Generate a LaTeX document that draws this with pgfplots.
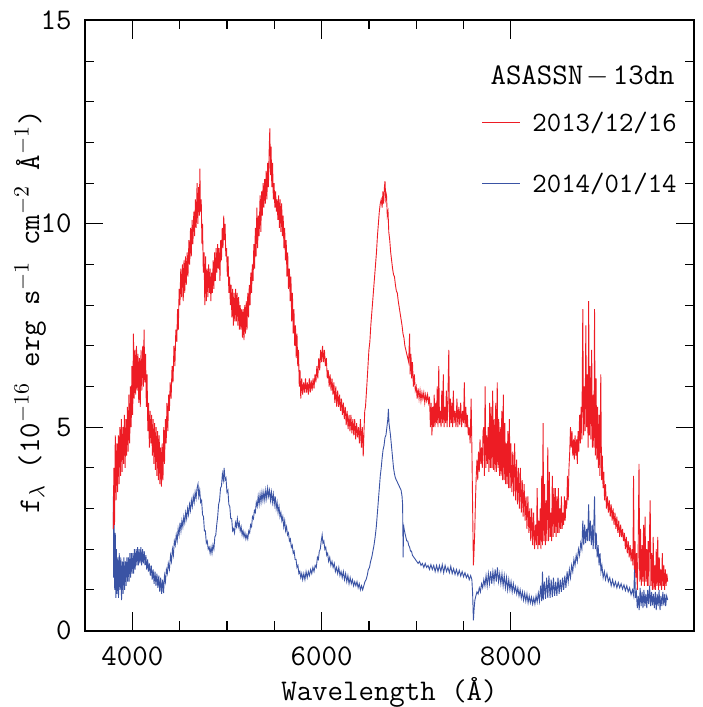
\documentclass[border=0pt]{standalone}
\usepackage{pgfplots}
\pgfplotsset{compat=1.18}

\definecolor{specred}{RGB}{237,28,36}
\definecolor{specblue}{RGB}{58,83,164}
\newcommand{\smfont}{\fontsize{15}{18}\selectfont\ttfamily}
\newcommand{\legfont}{\fontsize{14}{17}\selectfont\ttfamily}

\begin{document}
\begin{tikzpicture}
  % fix the page to the reference's margins round the axis box
  \path[use as bounding box] (-42.5pt,-38.25pt) rectangle (308.5pt,315.25pt);
  \begin{axis}[
    scale only axis,
    width=304.5pt, height=305pt,
    xmin=3500, xmax=9935,
    ymin=0, ymax=15,
    xtick={4000,6000,8000},
    ytick={0,5,10,15},
    minor x tick num=3,
    minor y tick num=4,
    tick align=inside,
    xtick pos=both, ytick pos=both,
    major tick length=9pt,
    minor tick length=4.5pt,
    every tick/.style={black, line width=0.6pt},
    axis line style={line width=1pt},
    /pgf/number format/assume math mode=true,
    /pgf/number format/set thousands separator={},
    tick label style={font=\smfont},
    xticklabel style={anchor=base, yshift=-17.25pt},
    yticklabel style={anchor=east, inner sep=0pt, xshift=-6.5pt},
    xlabel={Wavelength (Å)},
    ylabel={f$_\lambda$ (10$^{-16}$ erg s$^{-1}$ cm$^{-2}$ Å$^{-1}$)},
    label style={font=\smfont},
    xlabel style={at={(axis description cs:0.5,0)}, anchor=base, yshift=-34.75pt},
    ylabel style={at={(axis description cs:-0.09,0.522)}, anchor=center},
  ]

  % 2014/01/14
  \addplot[specblue, line width=0.45pt, mark=none] coordinates {
    (3799,3.3) (3803,1.3) (3808,2.8) (3814,1.0) (3820,2.4) (3826,0.8) (3832,2.0) (3838,0.9)
    (3846,1.8) (3854,0.8) (3862,1.9) (3870,1.0) (3878,1.8) (3886,0.75) (3894,1.7) (3902,0.9)
    (3910,1.8) (3918,1.0) (3926,1.7) (3934,1.1) (3942,1.8) (3950,1.2) (3958,1.8) (3966,1.2)
    (3974,1.9) (3982,1.3) (3990,1.9) (3998,1.4) (4006,1.9) (4014,1.4) (4022,2.0) (4030,1.5)
    (4040,2.0) (4048,1.6) (4056,2.05) (4064,1.6) (4072,2.0) (4080,1.65) (4090,2.05) (4098,1.6)
    (4108,2.0) (4116,1.65) (4126,1.95) (4134,1.6) (4144,1.85) (4152,1.5) (4162,1.75) (4170,1.45)
    (4180,1.65) (4190,1.35) (4200,1.6) (4210,1.25) (4220,1.5) (4230,1.15) (4240,1.45) (4250,1.1)
    (4260,1.4) (4270,1.05) (4280,1.35) (4290,0.95) (4300,1.3) (4310,0.9) (4320,1.25) (4330,0.92)
    (4340,1.35) (4350,1.2) (4360,1.5) (4370,1.4) (4380,1.65) (4392,1.5) (4404,1.85) (4414,1.7)
    (4424,2.0) (4434,1.85) (4444,2.2) (4454,2.1) (4464,2.35) (4474,2.2) (4484,2.5) (4494,2.35)
    (4504,2.65) (4514,2.45) (4524,2.7) (4534,2.55) (4544,2.8) (4554,2.65) (4564,2.9) (4574,2.75)
    (4584,3.0) (4594,2.85) (4604,3.1) (4614,2.95) (4624,3.2) (4634,3.05) (4644,3.3) (4654,3.15)
    (4664,3.4) (4674,3.25) (4684,3.5) (4694,3.6) (4702,3.3) (4712,3.45) (4722,3.15) (4732,3.2)
    (4742,2.85) (4752,2.8) (4762,2.45) (4772,2.45) (4782,2.15) (4792,2.2) (4802,2.0) (4812,2.05)
    (4822,1.9) (4832,2.05) (4842,1.9) (4852,2.1) (4862,2.0) (4872,2.3) (4882,2.35) (4892,2.6)
    (4902,2.8) (4912,3.1) (4922,3.2) (4932,3.5) (4942,3.55) (4952,3.85) (4962,3.7) (4970,4.0)
    (4980,3.7) (4990,3.75) (5000,3.4) (5010,3.45) (5020,3.1) (5030,3.05) (5040,2.75) (5050,2.75)
    (5060,2.45) (5070,2.5) (5080,2.4) (5090,2.65) (5100,2.55) (5110,2.75) (5120,2.55) (5130,2.65)
    (5140,2.45) (5150,2.55) (5160,2.35) (5170,2.45) (5180,2.3) (5190,2.4) (5200,2.25) (5210,2.35)
    (5220,2.25) (5230,2.45) (5240,2.4) (5250,2.6) (5260,2.55) (5270,2.8) (5280,2.75) (5290,2.95)
    (5300,2.9) (5310,3.15) (5320,3.05) (5330,3.3) (5340,3.1) (5350,3.35) (5360,3.15) (5370,3.4)
    (5380,3.2) (5390,3.4) (5400,3.2) (5410,3.45) (5420,3.25) (5430,3.5) (5440,3.3) (5450,3.45)
    (5460,3.2) (5470,3.4) (5480,3.15) (5490,3.35) (5500,3.1) (5510,3.3) (5520,3.0) (5530,3.15)
    (5540,2.9) (5550,3.05) (5560,2.8) (5570,2.9) (5580,2.7) (5590,2.8) (5600,2.55) (5610,2.7)
    (5620,2.45) (5630,2.55) (5640,2.35) (5650,2.4) (5660,2.2) (5670,2.25) (5680,2.05) (5690,2.1)
    (5700,1.9) (5710,1.95) (5720,1.75) (5730,1.75) (5740,1.55) (5750,1.6) (5760,1.4) (5770,1.45)
    (5780,1.3) (5790,1.4) (5800,1.25) (5812,1.4) (5824,1.25) (5836,1.45) (5848,1.3) (5860,1.45)
    (5872,1.35) (5884,1.5) (5896,1.4) (5908,1.55) (5920,1.45) (5932,1.6) (5944,1.55) (5956,1.8)
    (5966,1.75) (5976,1.95) (5986,2.0) (5996,2.2) (6006,2.35) (6014,2.15) (6024,2.2) (6034,2.0)
    (6044,2.05) (6054,1.85) (6064,1.9) (6074,1.7) (6086,1.8) (6098,1.6) (6110,1.7) (6122,1.55)
    (6134,1.65) (6146,1.45) (6158,1.55) (6170,1.4) (6182,1.55) (6194,1.35) (6206,1.45) (6218,1.3)
    (6230,1.45) (6242,1.25) (6254,1.4) (6266,1.2) (6278,1.35) (6290,1.15) (6302,1.3) (6314,1.15)
    (6326,1.25) (6338,1.1) (6350,1.2) (6362,1.1) (6374,1.2) (6386,1.05) (6398,1.15) (6410,1.0)
    (6422,1.1) (6434,1.0) (6446,1.1) (6458,1.2) (6470,1.25) (6482,1.35) (6494,1.5) (6506,1.55)
    (6518,1.7) (6530,1.8) (6542,1.95) (6554,2.1) (6566,2.3) (6578,2.55) (6590,2.9) (6600,3.2)
    (6610,3.5) (6620,3.8) (6630,4.0) (6640,4.25) (6650,4.45) (6660,4.55) (6670,4.75) (6680,4.8)
    (6690,5.0) (6700,5.2) (6706,5.45) (6712,5.1) (6720,4.95) (6728,4.8) (6736,4.6) (6744,4.4)
    (6752,4.2) (6760,4.0) (6770,3.85) (6780,3.75) (6790,3.7) (6800,3.65) (6810,3.6) (6820,3.55)
    (6830,3.5) (6840,3.45) (6850,3.3) (6856,3.1) (6862,1.8) (6866,2.6) (6872,2.5) (6880,2.4)
    (6890,2.3) (6900,2.2) (6910,2.2) (6920,2.1) (6930,2.05) (6940,1.95) (6950,1.95) (6960,1.85)
    (6975,1.8) (6990,1.75) (7005,1.7) (7020,1.65) (7035,1.7) (7050,1.6) (7065,1.65) (7080,1.55)
    (7095,1.65) (7110,1.55) (7125,1.6) (7140,1.5) (7155,1.62) (7170,1.5) (7185,1.6) (7200,1.45)
    (7215,1.6) (7230,1.45) (7245,1.6) (7260,1.45) (7275,1.62) (7290,1.42) (7305,1.6) (7320,1.45)
    (7335,1.55) (7350,1.42) (7365,1.58) (7380,1.4) (7395,1.52) (7410,1.38) (7425,1.5) (7440,1.36)
    (7455,1.48) (7470,1.34) (7485,1.45) (7500,1.32) (7515,1.42) (7530,1.3) (7545,1.38) (7560,1.25)
    (7575,1.35) (7588,1.25) (7596,0.9) (7604,0.25) (7612,0.55) (7620,0.75) (7630,0.85) (7642,0.95)
    (7654,0.9) (7666,1.05) (7678,0.95) (7690,1.15) (7702,1.05) (7714,1.25) (7726,1.1) (7738,1.35)
    (7750,1.1) (7762,1.4) (7774,1.15) (7786,1.45) (7798,1.15) (7810,1.45) (7822,1.2) (7834,1.5)
    (7846,1.2) (7858,1.55) (7870,1.2) (7882,1.4) (7894,1.15) (7906,1.4) (7918,1.1) (7930,1.35)
    (7942,1.05) (7954,1.3) (7966,1.0) (7978,1.25) (7990,1.0) (8002,1.2) (8014,0.95) (8026,1.15)
    (8038,0.95) (8050,1.08) (8062,0.9) (8074,1.05) (8086,0.85) (8098,1.0) (8110,0.8) (8122,0.95)
    (8134,0.75) (8146,0.92) (8158,0.72) (8170,0.9) (8182,0.68) (8194,0.85) (8206,0.68) (8218,0.82)
    (8230,0.65) (8242,0.8) (8254,0.65) (8266,0.85) (8278,0.7) (8290,0.92) (8302,0.72) (8314,1.1)
    (8326,0.72) (8334,1.45) (8342,0.75) (8354,1.2) (8366,0.78) (8378,1.3) (8390,0.8) (8402,1.35)
    (8414,0.8) (8426,1.25) (8438,0.82) (8450,1.3) (8462,0.85) (8474,1.2) (8486,0.85) (8498,1.3)
    (8510,0.9) (8522,1.25) (8534,0.95) (8546,1.3) (8558,1.0) (8570,1.35) (8582,1.05) (8594,1.45)
    (8606,1.2) (8618,1.5) (8630,1.3) (8642,1.6) (8654,1.45) (8666,1.75) (8678,1.6) (8690,1.85)
    (8702,1.7) (8714,2.0) (8726,1.85) (8738,2.15) (8750,2.0) (8760,2.7) (8770,2.1) (8780,2.6)
    (8790,2.15) (8800,2.5) (8810,2.2) (8822,3.1) (8830,2.2) (8840,2.7) (8850,2.1) (8860,2.6)
    (8870,2.0) (8884,3.3) (8892,2.0) (8902,2.4) (8912,1.8) (8922,2.1) (8932,1.6) (8942,1.9)
    (8952,1.45) (8962,1.6) (8975,1.3) (8988,1.45) (9000,1.25) (9015,1.4) (9030,1.2) (9045,1.3)
    (9060,1.1) (9075,1.25) (9090,1.08) (9105,1.2) (9120,1.05) (9135,1.18) (9150,1.05) (9165,1.15)
    (9180,1.02) (9195,1.12) (9210,0.98) (9225,1.1) (9240,0.95) (9255,1.05) (9270,0.88) (9285,1.0)
    (9298,0.85) (9308,1.6) (9316,0.8) (9326,0.95) (9336,0.55) (9346,0.85) (9356,0.5) (9366,1.05)
    (9376,0.6) (9386,0.95) (9396,0.55) (9406,1.0) (9416,0.6) (9426,0.9) (9436,0.55) (9446,1.0)
    (9456,0.65) (9466,1.1) (9476,0.6) (9486,0.95) (9496,0.62) (9506,0.9) (9516,0.55) (9526,0.95)
    (9536,0.5) (9546,0.9) (9556,0.6) (9566,1.0) (9576,0.5) (9586,0.85) (9596,0.6) (9606,0.95)
    (9616,0.62) (9626,0.9) (9636,0.6) (9646,0.85) (9657,0.75)
  };

  % 2013/12/16
  \addplot[specred, line width=0.45pt, mark=none] coordinates {
    (3799,2.5) (3805,4.0) (3812,2.6) (3820,4.8) (3828,3.2) (3836,4.6) (3844,3.4) (3852,4.8)
    (3860,3.6) (3868,5.0) (3876,3.8) (3884,5.2) (3892,3.9) (3900,5.0) (3908,4.1) (3916,5.3)
    (3924,4.0) (3932,5.2) (3940,4.3) (3948,5.5) (3956,4.4) (3964,5.8) (3972,4.6) (3980,6.0)
    (3988,5.0) (3996,6.5) (4004,5.3) (4012,7.3) (4020,5.7) (4028,6.9) (4036,5.8) (4044,7.0)
    (4052,5.9) (4060,6.8) (4068,5.6) (4076,6.7) (4084,5.5) (4092,6.9) (4100,5.9) (4110,7.0)
    (4118,6.0) (4124,7.4) (4132,6.1) (4140,6.8) (4148,5.5) (4156,6.3) (4164,4.9) (4172,5.6)
    (4180,4.5) (4188,5.4) (4196,4.6) (4204,5.3) (4212,4.3) (4220,5.2) (4228,4.1) (4236,5.1)
    (4244,3.95) (4252,5.0) (4260,3.8) (4268,4.9) (4276,3.7) (4284,4.8) (4292,3.6) (4300,4.5)
    (4308,3.54) (4316,4.6) (4324,3.7) (4332,5.0) (4340,4.1) (4350,5.2) (4358,4.6) (4366,5.6)
    (4375,4.9) (4384,5.8) (4392,5.4) (4400,6.1) (4410,5.7) (4420,6.5) (4430,6.1) (4440,7.0)
    (4450,6.5) (4460,7.4) (4470,7.1) (4478,7.9) (4486,7.4) (4495,8.4) (4503,8.0) (4512,8.9)
    (4520,8.2) (4530,9.0) (4538,8.1) (4546,9.1) (4554,8.3) (4562,9.2) (4570,8.5) (4580,9.3)
    (4588,8.7) (4598,9.6) (4606,9.0) (4615,9.9) (4623,9.2) (4632,10.1) (4640,9.5) (4650,10.3)
    (4658,9.7) (4667,10.6) (4675,9.9) (4684,11.0) (4692,10.0) (4700,10.9) (4708,10.2) (4714,11.36)
    (4720,10.3) (4728,10.6) (4736,9.5) (4742,10.0) (4750,8.8) (4758,9.3) (4766,8.0) (4774,9.2)
    (4782,8.1) (4790,8.9) (4798,8.2) (4806,9.0) (4814,8.3) (4822,8.9) (4830,8.1) (4838,8.8)
    (4846,8.3) (4854,9.1) (4862,8.4) (4870,9.3) (4878,8.6) (4886,9.4) (4894,8.8) (4902,9.5)
    (4910,8.9) (4918,9.4) (4926,8.6) (4934,9.6) (4942,9.1) (4950,9.9) (4958,9.4) (4966,10.2)
    (4972,9.6) (4980,10.0) (4988,9.2) (4996,9.4) (5004,8.7) (5012,9.2) (5020,8.3) (5028,8.7)
    (5036,8.0) (5044,8.5) (5052,7.7) (5060,8.4) (5068,7.5) (5076,8.3) (5084,7.6) (5092,8.4)
    (5100,7.6) (5108,8.3) (5116,7.5) (5124,8.2) (5132,7.4) (5140,8.0) (5148,7.4) (5156,7.9)
    (5164,7.2) (5172,7.9) (5180,7.14) (5188,8.0) (5196,7.3) (5204,8.1) (5212,7.4) (5220,8.3)
    (5228,7.7) (5236,8.5) (5244,8.0) (5252,8.8) (5260,8.3) (5268,9.0) (5276,8.6) (5284,9.5)
    (5292,8.9) (5300,9.9) (5308,9.2) (5316,10.4) (5324,9.4) (5332,10.2) (5340,9.7) (5350,10.7)
    (5358,9.8) (5366,10.8) (5374,10.2) (5382,11.0) (5390,10.4) (5398,11.1) (5406,10.5) (5414,11.3)
    (5422,10.6) (5430,11.5) (5438,10.9) (5446,11.8) (5453,12.35) (5460,11.2) (5466,11.9) (5474,10.9)
    (5482,11.5) (5490,10.6) (5498,11.0) (5506,10.4) (5514,10.8) (5522,10.3) (5530,10.6) (5538,10.1)
    (5546,10.7) (5554,9.9) (5562,10.6) (5570,9.8) (5578,10.5) (5586,9.7) (5594,10.2) (5602,9.4)
    (5610,9.9) (5618,9.1) (5626,9.6) (5634,8.7) (5642,9.3) (5650,8.4) (5660,8.9) (5668,8.1)
    (5676,8.7) (5684,7.6) (5692,8.3) (5700,7.3) (5708,7.9) (5716,7.0) (5724,7.5) (5732,6.7)
    (5740,7.3) (5748,6.5) (5756,6.9) (5764,6.0) (5772,6.4) (5780,5.7) (5790,6.2) (5800,5.8)
    (5810,6.1) (5820,5.85) (5830,6.2) (5840,5.85) (5850,6.1) (5860,5.8) (5870,6.2) (5880,5.85)
    (5890,6.15) (5900,5.9) (5910,6.2) (5920,5.95) (5930,6.3) (5940,6.1) (5950,6.5) (5960,6.2)
    (5970,6.7) (5980,6.4) (5990,6.9) (6000,6.6) (6010,7.0) (6020,6.6) (6030,6.9) (6040,6.5)
    (6050,6.7) (6060,6.2) (6070,6.4) (6080,6.0) (6090,6.3) (6100,5.9) (6110,6.2) (6120,5.8)
    (6130,6.1) (6140,5.6) (6150,6.0) (6160,5.5) (6170,5.9) (6180,5.5) (6190,5.8) (6200,5.4)
    (6210,5.7) (6220,5.3) (6230,5.6) (6240,5.2) (6250,5.5) (6260,5.05) (6270,5.4) (6280,4.95)
    (6290,5.3) (6300,4.9) (6310,5.3) (6320,4.85) (6330,5.2) (6340,4.8) (6350,5.2) (6360,4.7)
    (6370,5.1) (6380,4.75) (6390,5.0) (6400,4.6) (6410,5.2) (6420,4.5) (6430,5.0) (6440,4.28)
    (6448,4.9) (6456,5.4) (6464,5.5) (6472,5.8) (6480,6.1) (6490,6.5) (6500,6.9) (6510,7.1)
    (6520,7.5) (6530,7.8) (6540,8.1) (6550,8.4) (6560,8.7) (6570,9.0) (6580,9.3) (6590,9.7)
    (6600,10.0) (6610,10.3) (6620,10.5) (6630,10.6) (6640,10.4) (6648,10.8) (6656,10.5) (6664,10.9)
    (6670,11.05) (6678,10.6) (6686,10.7) (6694,10.2) (6702,10.3) (6710,9.8) (6720,9.6) (6730,9.3)
    (6740,9.1) (6750,8.9) (6760,8.75) (6770,8.7) (6780,8.5) (6790,8.35) (6800,8.3) (6810,8.1)
    (6820,7.95) (6830,7.8) (6840,7.65) (6850,7.5) (6860,7.3) (6870,7.2) (6880,7.0) (6890,6.9)
    (6900,6.8) (6910,6.7) (6920,6.6) (6930,7.3) (6936,6.3) (6944,6.8) (6952,6.2) (6960,6.6)
    (6970,6.0) (6980,6.3) (6990,5.9) (7000,6.0) (7010,5.7) (7020,5.95) (7030,5.7) (7040,5.9)
    (7050,5.65) (7060,5.85) (7070,5.7) (7080,5.85) (7090,5.6) (7100,5.8) (7110,5.65) (7120,5.8)
    (7130,5.6) (7140,5.75) (7150,5.0) (7158,5.6) (7166,4.8) (7174,5.5) (7182,5.0) (7190,5.8)
    (7198,5.0) (7206,5.6) (7214,5.1) (7222,6.0) (7230,5.0) (7238,6.5) (7246,5.1) (7254,5.4)
    (7262,5.0) (7270,5.9) (7278,5.1) (7286,6.3) (7294,5.0) (7302,5.5) (7310,5.1) (7318,5.9)
    (7326,5.0) (7334,5.6) (7344,6.9) (7352,5.0) (7360,5.7) (7368,5.1) (7376,5.6) (7384,5.0)
    (7392,5.9) (7400,5.1) (7410,5.4) (7420,5.0) (7430,5.7) (7440,5.0) (7450,5.5) (7460,5.05)
    (7470,5.6) (7480,5.0) (7490,5.4) (7500,5.1) (7508,6.1) (7516,5.0) (7524,5.5) (7532,5.0)
    (7540,5.3) (7550,4.8) (7560,5.0) (7570,4.6) (7580,5.7) (7588,4.5) (7596,3.0) (7604,1.6)
    (7610,1.9) (7618,2.4) (7626,3.2) (7634,3.8) (7642,4.2) (7650,3.7) (7658,4.4) (7666,3.9)
    (7674,4.7) (7682,4.1) (7690,4.5) (7698,4.0) (7706,4.9) (7714,5.0) (7720,3.8) (7728,6.0)
    (7736,4.0) (7744,4.8) (7752,4.1) (7760,5.0) (7768,3.9) (7776,5.6) (7784,4.0) (7792,5.5)
    (7800,4.0) (7808,5.9) (7816,3.95) (7824,5.2) (7832,3.9) (7840,5.6) (7848,3.9) (7856,6.1)
    (7864,4.0) (7872,5.2) (7880,3.8) (7888,5.0) (7896,3.8) (7904,5.4) (7912,3.7) (7920,5.8)
    (7928,3.7) (7936,5.1) (7944,3.6) (7952,4.6) (7960,3.6) (7968,4.9) (7976,3.5) (7984,5.2)
    (7992,3.5) (8000,4.6) (8010,3.4) (8020,4.4) (8030,3.3) (8040,4.6) (8050,3.2) (8060,4.2)
    (8070,3.1) (8080,4.0) (8090,3.0) (8100,4.0) (8110,2.9) (8120,3.7) (8130,2.8) (8140,3.6)
    (8150,2.7) (8160,3.3) (8170,2.5) (8180,3.3) (8190,2.4) (8200,3.0) (8210,2.2) (8220,3.0)
    (8230,2.1) (8240,2.9) (8250,2.0) (8260,2.6) (8270,2.1) (8278,3.5) (8286,2.0) (8294,2.7)
    (8302,2.1) (8310,3.0) (8318,2.0) (8326,3.8) (8334,2.1) (8340,5.1) (8348,2.2) (8356,3.6)
    (8364,2.1) (8372,3.2) (8380,2.2) (8390,4.5) (8398,2.2) (8406,3.9) (8414,2.3) (8422,2.9)
    (8430,2.2) (8438,3.8) (8446,2.3) (8454,3.5) (8462,2.4) (8470,3.5) (8478,2.3) (8486,3.3)
    (8494,2.4) (8502,3.5) (8510,2.4) (8518,3.0) (8526,2.5) (8534,3.3) (8542,2.5) (8550,2.9)
    (8558,2.6) (8566,3.3) (8574,2.7) (8582,3.2) (8590,3.0) (8598,3.8) (8606,3.2) (8614,4.0)
    (8622,4.4) (8630,5.0) (8638,4.5) (8646,4.9) (8654,4.3) (8662,4.7) (8670,4.2) (8678,4.8)
    (8686,4.3) (8694,4.7) (8702,4.1) (8710,4.9) (8718,4.4) (8726,5.3) (8734,4.6) (8742,5.5)
    (8750,4.7) (8760,7.9) (8768,4.8) (8776,6.0) (8784,4.9) (8792,7.5) (8800,5.0) (8808,6.3)
    (8816,4.5) (8822,8.1) (8830,4.8) (8838,6.5) (8846,4.7) (8854,6.9) (8862,4.5) (8870,5.8)
    (8878,4.5) (8884,7.9) (8892,4.3) (8900,6.2) (8908,4.2) (8916,5.5) (8924,4.0) (8932,5.3)
    (8940,3.8) (8950,6.3) (8958,3.7) (8966,4.3) (8974,3.5) (8982,3.9) (8990,3.2) (9000,3.6)
    (9010,3.0) (9020,3.3) (9030,2.9) (9040,3.2) (9050,2.8) (9060,3.1) (9070,2.7) (9080,3.0)
    (9090,2.6) (9100,2.9) (9110,2.5) (9120,2.8) (9130,2.4) (9140,2.7) (9150,2.3) (9160,2.6)
    (9170,2.3) (9180,2.5) (9190,2.2) (9200,2.4) (9210,2.0) (9220,2.3) (9230,1.9) (9240,2.2)
    (9250,1.8) (9260,2.1) (9270,1.7) (9280,2.0) (9290,1.6) (9296,3.8) (9304,1.5) (9312,2.2)
    (9320,1.3) (9328,1.9) (9336,1.0) (9344,1.8) (9354,4.1) (9362,1.2) (9370,2.5) (9378,1.1)
    (9386,2.1) (9394,1.2) (9402,2.6) (9410,1.1) (9418,2.8) (9426,1.2) (9434,2.0) (9442,1.1)
    (9450,2.2) (9458,1.1) (9466,2.5) (9472,3.2) (9480,1.1) (9488,1.9) (9496,1.0) (9504,2.3)
    (9512,1.0) (9520,1.6) (9528,1.0) (9536,2.0) (9544,1.1) (9552,2.3) (9560,1.0) (9568,1.8)
    (9576,1.1) (9584,1.5) (9592,1.0) (9600,1.9) (9608,1.1) (9616,1.6) (9624,1.0) (9632,1.5)
    (9640,1.1) (9648,1.4) (9657,1.2)
  };

  % legend block, as in the original
  \node[anchor=base east, inner sep=0pt, font=\smfont] at (axis cs:9735,13.43)
    {ASASSN\hspace{0.12em}$-$\hspace{0.12em}13dn};
  \draw[specred, line width=0.5pt] (axis cs:7697,12.5) -- (axis cs:8098,12.5);
  \node[anchor=base east, inner sep=0pt, font=\legfont] at (axis cs:9756,12.26) {2013/12/16};
  \draw[specblue, line width=0.5pt] (axis cs:7697,10.99) -- (axis cs:8098,10.99);
  \node[anchor=base east, inner sep=0pt, font=\legfont] at (axis cs:9756,10.78) {2014/01/14};
  \end{axis}
\end{tikzpicture}
\end{document}
